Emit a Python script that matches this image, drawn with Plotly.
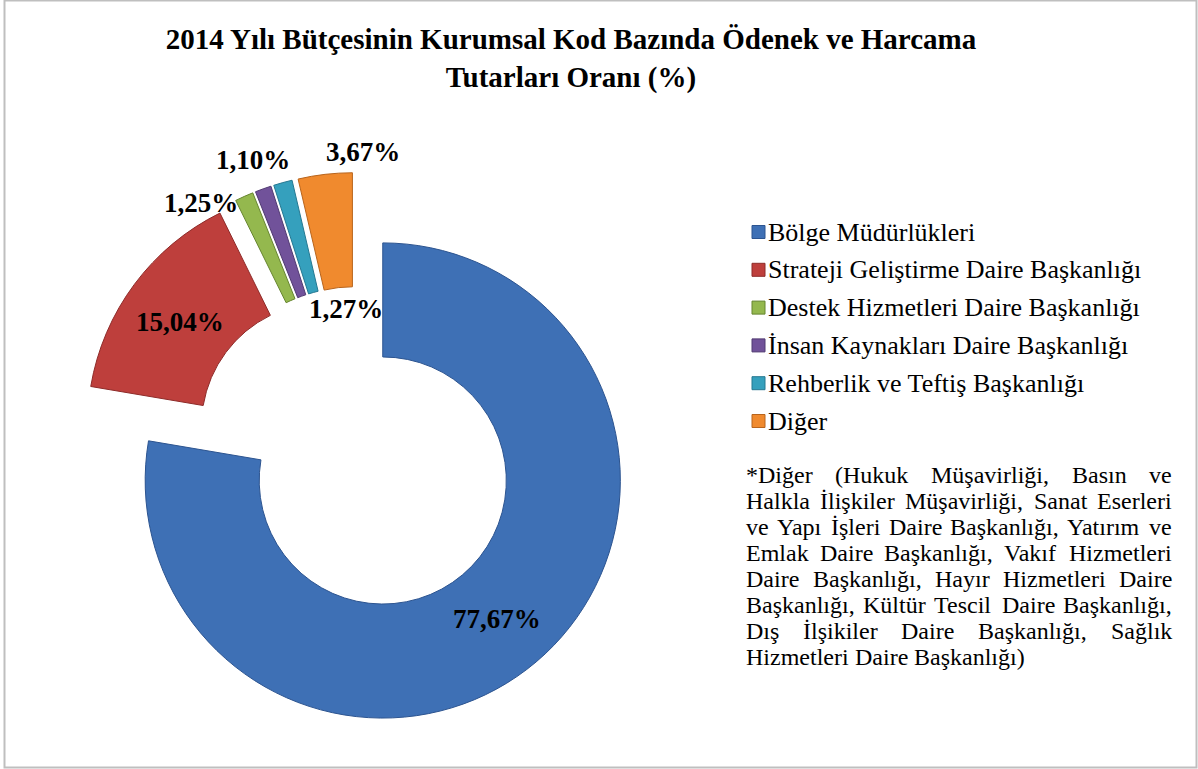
import plotly.graph_objects as go

# Veriler
etiketler = [
    "Bölge Müdürlükleri",
    "Strateji Geliştirme Daire Başkanlığı",
    "Destek Hizmetleri Daire Başkanlığı",
    "İnsan Kaynakları Daire Başkanlığı",
    "Rehberlik ve Teftiş Başkanlığı",
    "Diğer",
]
oranlar = [77.67, 15.04, 1.25, 1.10, 1.27, 3.67]
renkler = ["#3E70B5", "#BE3F3C", "#94B84E", "#71529A", "#35A0BD", "#F08A2E"]
kenar_renkleri = ["#2C5490", "#8E2B29", "#66852F", "#513A72", "#257891", "#B8641C"]

# dilim etiketlerinin yerleri (piksel, merkez)
etiket_yerleri = [(497, 619), (180, 322), (201, 203), (253, 160), (346, 309), (363, 152)]

dipnot_satirlari = [
    "*Diğer (Hukuk Müşavirliği, Basın ve",
    "Halkla İlişkiler Müşavirliği, Sanat Eserleri",
    "ve Yapı İşleri Daire Başkanlığı, Yatırım ve",
    "Emlak Daire Başkanlığı, Vakıf Hizmetleri",
    "Daire Başkanlığı, Hayır Hizmetleri Daire",
    "Başkanlığı, Kültür Tescil Daire Başkanlığı,",
    "Dış İlşikiler Daire Başkanlığı, Sağlık",
    "Hizmetleri Daire Başkanlığı)",
]

W, H = 1198, 769
FONT = "Liberation Serif, Times New Roman, serif"

# Times / Liberation Serif karakter genişlikleri (1/1000 em), iki yana yaslama için
GENISLIK = {
    " ": 250, "*": 500, "(": 333, ")": 333, ",": 250,
    "a": 444, "b": 500, "c": 444, "d": 500, "e": 444, "f": 333, "g": 500, "h": 500,
    "i": 278, "j": 278, "k": 500, "l": 278, "m": 778, "n": 500, "o": 500, "p": 500,
    "r": 333, "s": 389, "t": 278, "u": 500, "v": 500, "y": 500, "z": 444,
    "ı": 278, "ş": 389, "ç": 444, "ğ": 500, "ü": 500, "ö": 500,
    "B": 667, "D": 722, "E": 611, "H": 722, "K": 722, "M": 889, "S": 556,
    "V": 722, "Y": 722, "İ": 333, "I": 333, "T": 611,
}


def kelime_genisligi(kelime, boyut):
    return sum(GENISLIK.get(c, 500) for c in kelime) * boyut / 1000


def px(x, y):
    return x / W, 1 - y / H


# pasta kutusu: merkez (357, 450), yarıçap ~237, çekme 0.168
kutu = 555
cx, cy = 357, 450

fig = go.Figure(go.Pie(
    labels=etiketler,
    values=oranlar,
    hole=0.52,
    pull=[0.168] * len(oranlar),
    sort=False,
    direction="clockwise",
    rotation=0,
    marker=dict(colors=renkler, line=dict(color=kenar_renkleri, width=1)),
    textinfo="none",
    domain=dict(x=[(cx - kutu / 2) / W, (cx + kutu / 2) / W],
                y=[1 - (cy + kutu / 2) / H, 1 - (cy - kutu / 2) / H]),
    showlegend=False,
    hoverinfo="label+percent",
))

annotations = []
for deger, (x, y) in zip(oranlar, etiket_yerleri):
    ax, ay = px(x, y)
    annotations.append(dict(
        x=ax, y=ay, xref="paper", yref="paper", showarrow=False,
        xanchor="center", yanchor="middle",
        text=f"<b>{deger:.2f}%</b>".replace(".", ","),
        font=dict(family=FONT, size=27, color="black"),
    ))

# el yapımı lejant
shapes = []
for i, (ad, renk) in enumerate(zip(etiketler, renkler)):
    y = 232 + i * 37.8
    x0, y0 = px(752, y - 6.5)
    x1, y1 = px(765, y + 6.5)
    shapes.append(dict(type="rect", xref="paper", yref="paper", x0=x0, x1=x1, y0=y0, y1=y1,
                       fillcolor=renk, line=dict(color=kenar_renkleri[i], width=1)))
    tx, ty = px(766, y)
    annotations.append(dict(
        x=tx, y=ty, xref="paper", yref="paper", showarrow=False,
        xanchor="left", yanchor="middle", text=ad,
        font=dict(family=FONT, size=26, color="black"),
    ))

# dipnot: iki yana yaslı, kelime kelime
sol, sag, boyut = 744, 1170, 24
for i, satir in enumerate(dipnot_satirlari):
    y = 475 + i * 26
    kelimeler = satir.split(" ")
    genislikler = [kelime_genisligi(k, boyut) for k in kelimeler]
    if i < len(dipnot_satirlari) - 1 and len(kelimeler) > 1:
        bosluk = (sag - sol - sum(genislikler)) / (len(kelimeler) - 1)
    else:
        bosluk = GENISLIK[" "] * boyut / 1000
    x = sol
    for kelime, g in zip(kelimeler, genislikler):
        ax, ay = px(x, y)
        annotations.append(dict(
            x=ax, y=ay, xref="paper", yref="paper", showarrow=False,
            xanchor="left", yanchor="middle", text=kelime,
            font=dict(family=FONT, size=boyut, color="black"),
        ))
        x += g + bosluk

# dış çerçeve
shapes.append(dict(type="rect", xref="paper", yref="paper",
                   x0=4.5 / W, x1=1196.5 / W, y0=1 - 767.5 / H, y1=1 - 0.5 / H,
                   line=dict(color="#BFBFBF", width=2)))

fig.update_layout(
    width=W,
    height=H,
    margin=dict(l=0, r=0, t=0, b=0),
    paper_bgcolor="white",
    plot_bgcolor="white",
    title=dict(
        text="<b>2014 Yılı Bütçesinin Kurumsal Kod Bazında Ödenek ve Harcama<br>Tutarları Oranı (%)</b>",
        x=571 / W, xanchor="center", y=1 - 49 / H, yanchor="middle",
        font=dict(family=FONT, size=29, color="black"),
    ),
    annotations=annotations,
    shapes=shapes,
)

fig.write_html(
    "out.html",
    config={"displayModeBar": False},
    post_script="document.body.style.margin='0';document.body.style.overflow='hidden';",
)
